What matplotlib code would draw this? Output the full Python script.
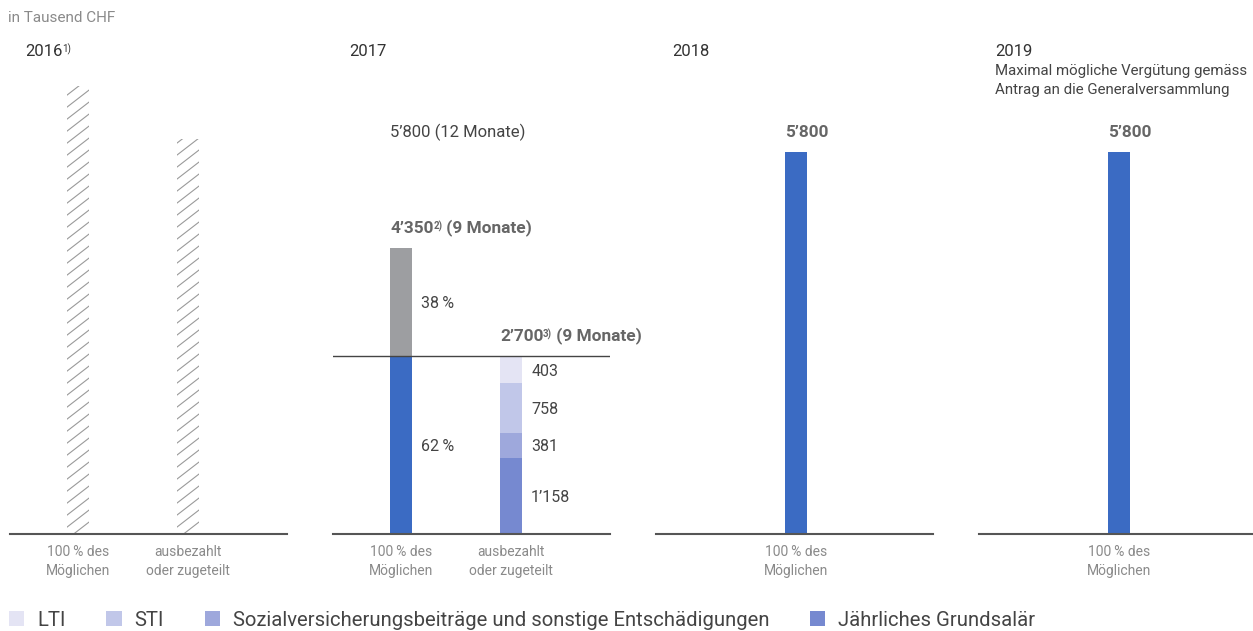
import matplotlib
matplotlib.use("Agg")
import matplotlib.pyplot as plt
from matplotlib.patches import Patch

plt.rcParams["font.family"] = ["Roboto", "DejaVu Sans"]

# values in thousand CHF
years = ["2016", "2017", "2018", "2019"]
year_notes = ["1)", "", "", ""]
hatched_2016 = [6800, 6000]          # placeholder bars, no values shown
possible_2017 = 4350
possible_shares_2017 = [62, 38]      # percent
paid_2017 = [1158, 381, 758, 403]    # Grundsalaer, Sozial, STI, LTI
paid_total_2017 = 2700
full_year_2017 = 5800
max_2018 = 5800
max_2019 = 5800

tick_two = ["100\u2009% des\nMöglichen", "ausbezahlt\noder zugeteilt"]
tick_one = ["100\u2009% des\nMöglichen"]
legend_labels = ["LTI", "STI", "Sozialversicherungsbeiträge und sonstige Entschädigungen",
                 "Jährliches Grundsalär"]

# colours
c_blue = "#3b6bc3"
c_gray = "#9d9ea1"
c_lti, c_sti, c_soz, c_grund = "#e4e4f4", "#c1c7e9", "#9ea8dc", "#7689d0"
c_text = "#444444"
c_label = "#666666"
c_tick = "#8a8a8a"

W, H = 1253, 631
fig = plt.figure(figsize=(W / 100, H / 100), dpi=100)

BASE = 97      # baseline, px from bottom
AXH = 461      # px for 0..7000
BW = 0.2


def px_axes(left, width, xlim):
    ax = fig.add_axes([left / W, BASE / H, width / W, AXH / H])
    ax.set_ylim(0, 7000)
    ax.set_xlim(*xlim)
    for s in ["top", "left", "right"]:
        ax.spines[s].set_visible(False)
    ax.spines["bottom"].set_color("#555555")
    ax.spines["bottom"].set_linewidth(1.5)
    ax.set_yticks([])
    ax.tick_params(axis="x", length=0, pad=8, labelsize=10, labelcolor=c_tick)
    ax.patch.set_alpha(0)
    return ax


def set_ticks(ax, pos, labels):
    ax.set_xticks(pos, labels)
    for t in ax.get_xticklabels():
        t.set_linespacing(1.45)


def fig_text(x, y, s, **kw):
    # x, y in px from top-left
    return fig.text(x / W, 1 - y / H, s, va="baseline", **kw)


def top_label(ax, x, y, main, sup="", tail="", weight="bold", color=c_label, size=12.4):
    t1 = ax.annotate(main, xy=(x, y), xytext=(0, 10.8), textcoords="offset points",
                     va="baseline", ha="left", fontsize=size, fontweight=weight, color=color)
    last = t1
    if sup:
        last = ax.annotate(sup, xy=(1, 1), xycoords=t1, xytext=(-0.3, 0.1),
                           textcoords="offset points", va="top", ha="left",
                           fontsize=7, fontweight=weight, color=color)
    if tail:
        ax.annotate(tail, xy=(1, 0), xycoords=(last, t1), va="bottom", ha="left",
                    fontsize=size, fontweight=weight, color=color)


def side_label(ax, x, y, s):
    ax.annotate(s, xy=(x, y), xytext=(6.5, -1.2), textcoords="offset points",
                va="center", ha="left", fontsize=11.5, color=c_text)


# ---- 2016 ----
ax1 = px_axes(10, 277, (-0.62, 1.9))
bars = ax1.bar([0, 1], hatched_2016, width=BW, color="none", linewidth=0)
spacing = 12 / (AXH / 7000)
rise = 17 / (AXH / 7000)
for rect in bars:
    x0, h = rect.get_x(), rect.get_height()
    y = -rise
    while y < h + spacing:
        ln, = ax1.plot([x0, x0 + BW], [y, y + rise], color="#9a9a9a", lw=0.8)
        ln.set_clip_path(rect)
        y += spacing
set_ticks(ax1, [0, 1], tick_two)

# ---- 2017 ----
ax2 = px_axes(333, 277, (-0.62, 1.9))
low = possible_2017 * possible_shares_2017[0] / 100
ax2.bar(0, low, width=BW, color=c_blue)
ax2.bar(0, possible_2017 - low, bottom=low, width=BW, color=c_gray)
bottom = 0
for v, c in zip(paid_2017, [c_grund, c_soz, c_sti, c_lti]):
    ax2.bar(1, v, bottom=bottom, width=BW, color=c)
    side_label(ax2, 1 + BW / 2, bottom + v / 2, f"{v:,}".replace(",", "\u2019"))
    bottom += v
ax2.axhline(paid_total_2017, color="#444444", lw=1)
side_label(ax2, BW / 2, low / 2, f"{possible_shares_2017[0]}\u2009%")
side_label(ax2, BW / 2, low + (possible_2017 - low) / 2, f"{possible_shares_2017[1]}\u2009%")
top_label(ax2, -BW / 2, full_year_2017, "5\u2019800 (12 Monate)", weight="normal",
          color=c_text, size=12)
top_label(ax2, -BW / 2, possible_2017, "4\u2019350", "2)", " (9 Monate)")
top_label(ax2, 1 - BW / 2, paid_total_2017, "2\u2019700", "3)", " (9 Monate)")
set_ticks(ax2, [0, 1], tick_two)

# ---- 2018 ----
ax3 = px_axes(656, 277, (-140 / 110, 137 / 110))
ax3.bar(0, max_2018, width=BW, color=c_blue)
top_label(ax3, -BW / 2, max_2018, "5\u2019800")
set_ticks(ax3, [0], tick_one)

# ---- 2019 ----
ax4 = px_axes(979, 274, (-140 / 110, 134 / 110))
ax4.bar(0, max_2019, width=BW, color=c_blue)
top_label(ax4, -BW / 2, max_2019, "5\u2019800")
set_ticks(ax4, [0], tick_one)

# headings
fig_text(8, 22, "in Tausend CHF", fontsize=11, color="#8a8a8a")
for x, yr, note in zip([25, 349, 672, 995], years, year_notes):
    t = fig_text(x, 56, yr, fontsize=12, color="#333333")
    if note:
        ax1.annotate(note, xy=(1, 1), xycoords=t, xytext=(-0.3, 0.1),
                     textcoords="offset points", va="top", ha="left",
                     fontsize=7, color="#333333", annotation_clip=False)
fig_text(995, 75, "Maximal mögliche Vergütung gemäss", fontsize=10.8, color=c_text)
fig_text(995, 94, "Antrag an die Generalversammlung", fontsize=10.8, color=c_text)

# legend
handles = [Patch(facecolor=c, edgecolor="none") for c in [c_lti, c_sti, c_soz, c_grund]]
fig.legend(handles, legend_labels, loc="center left", bbox_to_anchor=(9 / W, 1 - 620 / H),
           ncol=4, frameon=False, fontsize=14.6, handlelength=0.75, handleheight=0.75,
           handletextpad=0.65, columnspacing=2.0, borderpad=0, borderaxespad=0,
           labelcolor=c_text)

fig.savefig("out.png", dpi=100)
